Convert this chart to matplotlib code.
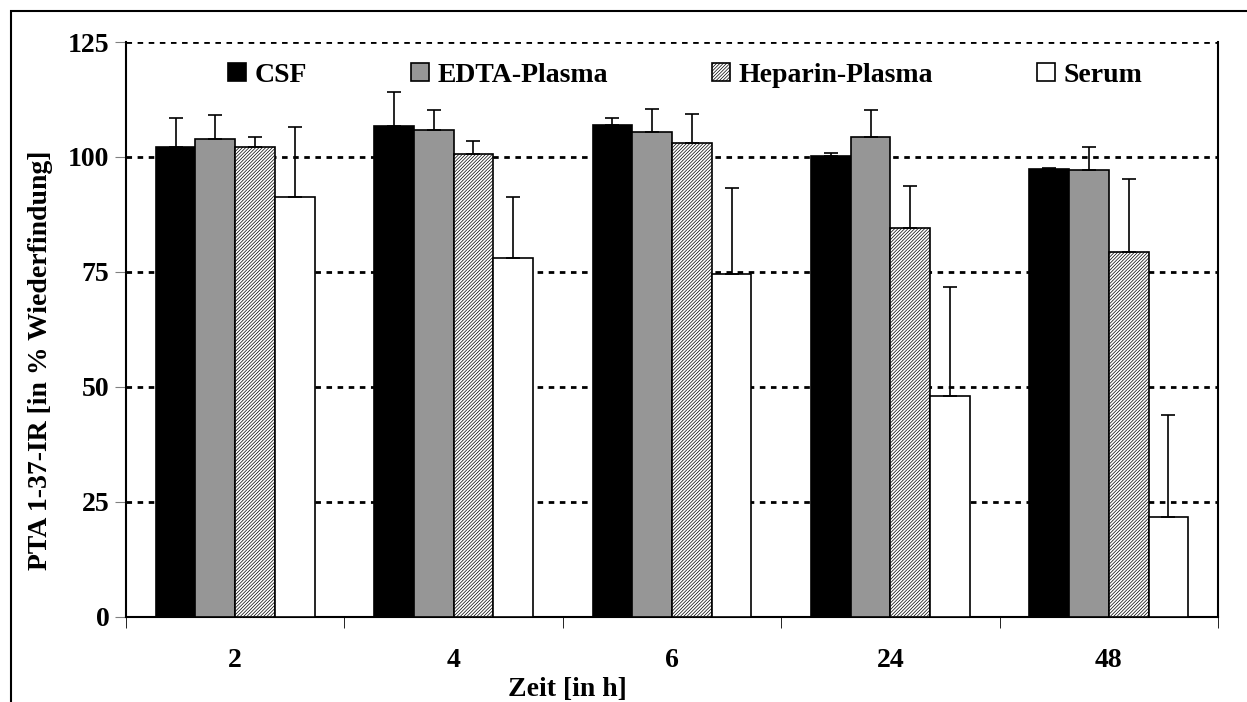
import numpy as np
import matplotlib
matplotlib.use("Agg")
import matplotlib.pyplot as plt
from matplotlib.patches import Rectangle

# ---------------------------
# Data
# ---------------------------
times = ["2", "4", "6", "24", "48"]
series = ["CSF", "EDTA-Plasma", "Heparin-Plasma", "Serum"]

csf = [102.2, 106.8, 107.0, 100.1, 97.4]
csf_err = [6.3, 7.3, 1.5, 0.8, 0.2]

edta = [103.9, 105.9, 105.5, 104.3, 97.2]
edta_err = [5.2, 4.2, 5.0, 6.0, 5.0]

heparin = [102.2, 100.6, 103.0, 84.6, 79.3]
heparin_err = [2.1, 2.9, 6.3, 9.0, 16.0]

serum = [91.3, 78.0, 74.5, 48.0, 21.6]
serum_err = [15.3, 13.3, 18.8, 23.6, 22.2]

plt.rcParams["font.family"] = ["Liberation Serif", "DejaVu Serif"]
plt.rcParams["font.weight"] = "bold"
plt.rcParams["hatch.linewidth"] = 0.5

fig = plt.figure(figsize=(12.47, 7.02), dpi=100)
ax = fig.add_axes([126 / 1247, 1 - 616.5 / 702, 1092 / 1247, (616.5 - 42) / 702])

# outer frame of the figure
fig.patches.append(Rectangle((11 / 1247, -0.1), 2.0, 1.1 - 11 / 702,
                             transform=fig.transFigure, fill=False,
                             edgecolor="black", linewidth=1.5, zorder=0))

x = np.arange(len(times))
w = 0.182
styles = [
    dict(color="black", hatch=None),
    dict(color="#969696", hatch=None),
    dict(color="white", hatch="//////////"),
    dict(color="white", hatch=None),
]
values = [csf, edta, heparin, serum]
errors = [csf_err, edta_err, heparin_err, serum_err]

for i, (name, vals, errs, st) in enumerate(zip(series, values, errors, styles)):
    pos = x + (i - 1.5) * w
    ax.bar(pos, vals, width=w, color=st["color"], edgecolor="black",
           linewidth=1.2, hatch=st["hatch"], label=name, zorder=3)
    ax.errorbar(pos, vals, yerr=[np.zeros(len(errs)), errs], fmt="none",
                ecolor="black", elinewidth=1.2, capsize=5, capthick=1.2, zorder=4)

ax.set_xlim(-0.5, len(times) - 0.5)
ax.set_ylim(0, 125)
ax.set_yticks([0, 25, 50, 75, 100, 125])
ax.set_xticks(x)
ax.set_xticklabels(times)
ax.set_xticks(np.arange(len(times) + 1) - 0.5, minor=True)
ax.tick_params(axis="x", which="major", length=0, pad=23, labelsize=20)
ax.tick_params(axis="x", which="minor", length=8, direction="out", color="black")
ax.tick_params(axis="y", length=8, direction="out", color="gray", labelsize=20, pad=4)

for v in [25, 50, 75, 100, 125]:
    ax.axhline(v, color="black", linewidth=2, linestyle=(0, (2, 2)), zorder=1)

ax.spines["top"].set_visible(False)
for s in ["left", "right", "bottom"]:
    ax.spines[s].set_linewidth(1.5)

ax.set_ylabel("PTA 1-37-IR [in % Wiederfindung]", fontsize=20, fontweight="bold")
ax.yaxis.set_label_coords((53 - 126) / 1092, (616.5 - 360) / 574.5)
ax.set_xlabel("Zeit [in h]", fontsize=20, fontweight="bold")
ax.xaxis.set_label_coords((567 - 126) / 1092, -0.105)

leg = ax.legend(loc="upper center", bbox_to_anchor=(0.512, 0.983), ncol=4, frameon=False,
                fontsize=20, handlelength=0.65, handleheight=0.65, handletextpad=0.3,
                columnspacing=3.75, borderaxespad=0)

fig.savefig("out.png", dpi=100)
